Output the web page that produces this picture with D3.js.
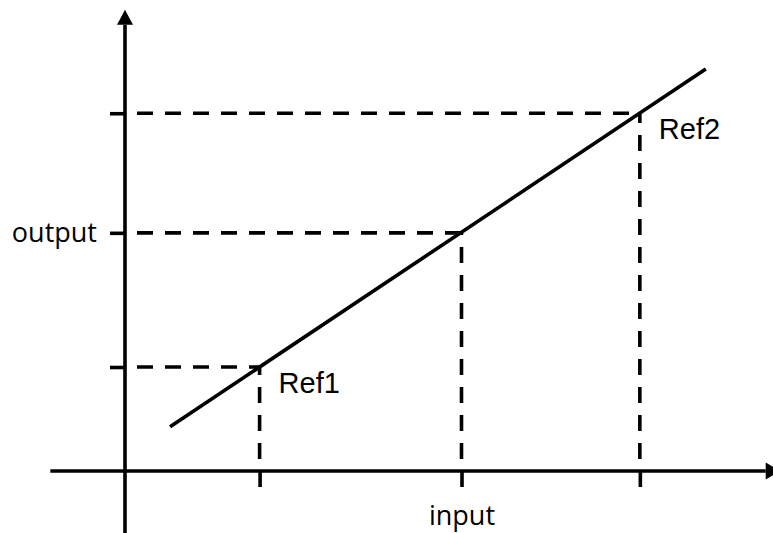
<!DOCTYPE html>
<html>
<head>
<meta charset="utf-8">
<script src="https://cdn.jsdelivr.net/npm/d3@7"></script>
<style>
  body { margin: 0; background: #fff; }
  svg { display: block; }
</style>
</head>
<body>
<div id="chart"></div>
<script>
// reference points on the straight line (input, output)
const refInputs = [2, 5, 7.65];
const refOutputs = [2.0, 4.58, 6.88];
const refLabels = ["Ref1", "", "Ref2"];

// ends of the drawn line
const lineInputs = [0.67, 8.63];
const lineOutputs = [0.85, 7.73];

// axis tick labels (only the middle point gets one)
const xTickLabels = ["", "input", ""];
const yTickLabels = ["", "output", ""];

// how far the axes reach
const xAxisExtent = [-1.11, 9.52];
const yAxisExtent = [-1.19, 8.58];

const width = 773, height = 533;
const stroke = 3.6;

const x = d3.scaleLinear().domain([0, 10]).range([125, 798]);
const y = d3.scaleLinear().domain([0, 10]).range([471, -49]);

const svg = d3.select('#chart').append('svg')
    .attr('width', width)
    .attr('height', height);

// dashed guides, drawn from the axes towards each point
const guides = svg.append('g')
    .attr('stroke', '#000')
    .attr('stroke-width', stroke)
    .attr('stroke-dasharray', '16,12')
    .attr('stroke-dashoffset', 16);

refInputs.forEach((d, i) => {
    guides.append('line')
        .attr('x1', x(0)).attr('y1', y(refOutputs[i]))
        .attr('x2', x(d)).attr('y2', y(refOutputs[i]));
    guides.append('line')
        .attr('x1', x(d)).attr('y1', y(0))
        .attr('x2', x(d)).attr('y2', y(refOutputs[i]));
});

// axes: ticks from d3, own lines with arrows
const xAxis = d3.axisBottom(x)
    .tickValues(refInputs)
    .tickSize(16)
    .tickPadding(19)
    .tickFormat((d, i) => xTickLabels[i]);
const yAxis = d3.axisLeft(y)
    .tickValues(refOutputs)
    .tickSize(15)
    .tickPadding(13)
    .tickFormat((d, i) => yTickLabels[i]);

const gx = svg.append('g')
    .attr('transform', 'translate(0,' + y(0) + ')')
    .call(xAxis);
const gy = svg.append('g')
    .attr('transform', 'translate(' + x(0) + ',0)')
    .call(yAxis);

[gx, gy].forEach(g => {
    g.select('.domain').remove();
    g.selectAll('.tick line').attr('stroke-width', stroke);
    g.selectAll('.tick text')
        .attr('fill', '#000')
        .style('font-family', '"Open Sans", "Noto Sans", sans-serif')
        .style('font-size', '27px');
});

svg.append('line')
    .attr('x1', x(xAxisExtent[0])).attr('y1', y(0))
    .attr('x2', x(xAxisExtent[1])).attr('y2', y(0))
    .attr('stroke', '#000').attr('stroke-width', stroke);
svg.append('line')
    .attr('x1', x(0)).attr('y1', y(yAxisExtent[0]))
    .attr('x2', x(0)).attr('y2', y(yAxisExtent[1]))
    .attr('stroke', '#000').attr('stroke-width', stroke);

// arrow heads
const ax = x(xAxisExtent[1]), ay = y(0);
svg.append('path')
    .attr('d', `M${ax},${ay - 8.5}L${ax + 15},${ay}L${ax},${ay + 8.5}Z`)
    .attr('fill', '#000');
const bx = x(0), by = y(yAxisExtent[1]);
svg.append('path')
    .attr('d', `M${bx - 8},${by}L${bx},${by - 15}L${bx + 8},${by}Z`)
    .attr('fill', '#000');

// the line itself
const line = d3.line()
    .x((d, i) => x(d))
    .y((d, i) => y(lineOutputs[i]));
svg.append('path')
    .attr('d', line(lineInputs))
    .attr('fill', 'none')
    .attr('stroke', '#000')
    .attr('stroke-width', stroke);

// point labels
svg.append('g').selectAll('text')
    .data(refInputs)
    .join('text')
    .attr('x', d => x(d) + 19)
    .attr('y', (d, i) => y(refOutputs[i]) + 26)
    .style('font-family', '"Liberation Sans", Arial, sans-serif')
    .style('font-size', '29px')
    .text((d, i) => refLabels[i]);
</script>
</body>
</html>
